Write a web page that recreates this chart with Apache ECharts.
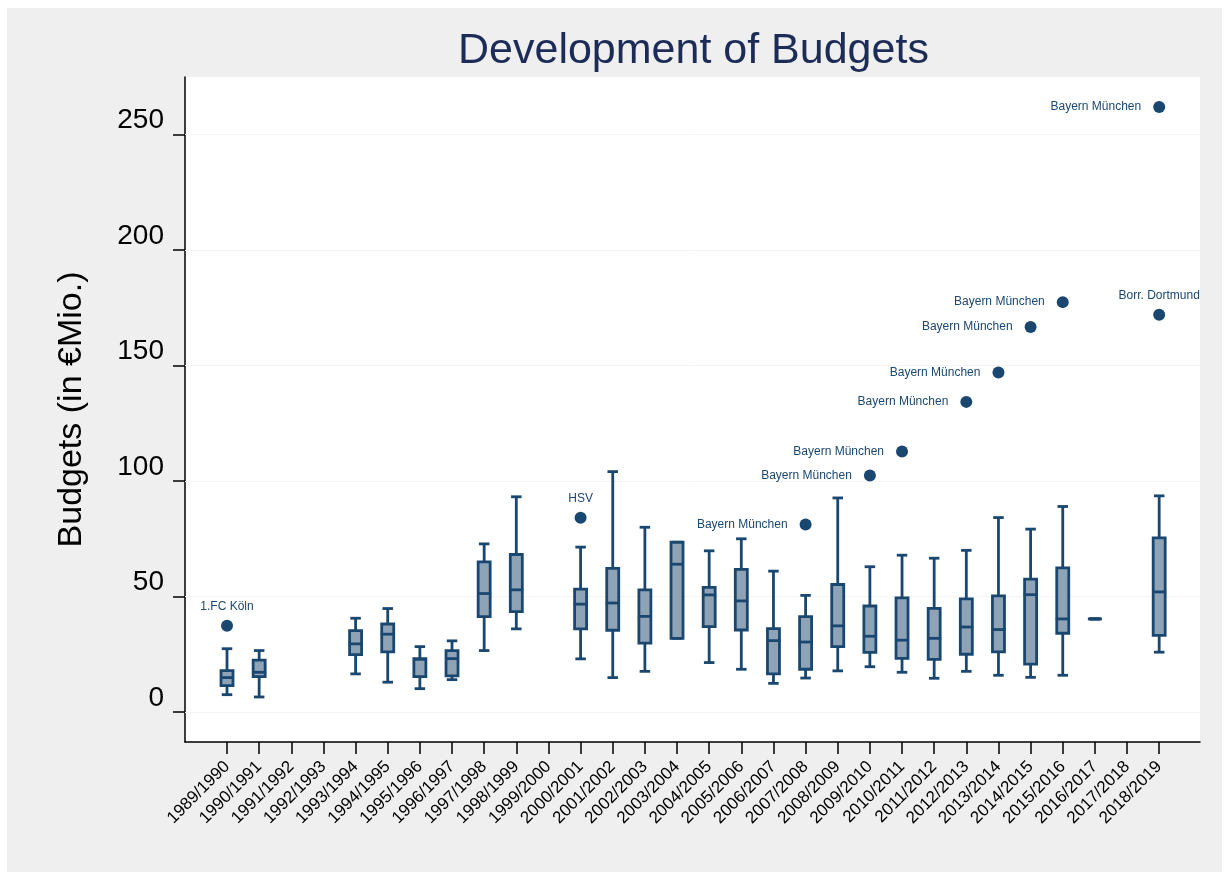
<!DOCTYPE html>
<html>
<head>
<meta charset="utf-8">
<script src="https://cdn.jsdelivr.net/npm/echarts@6/dist/echarts.min.js"></script>
<style>
  body { margin: 0; background: #ffffff; }
  #frame { position: absolute; left: 7px; top: 8px; width: 1215px; height: 864px; background: #efefef; }
  #main { position: absolute; left: 0; top: 0; width: 1228px; height: 874px; }
</style>
</head>
<body>
<div id="frame"></div>
<div id="main"></div>
<script>
// seasons on the x axis
const seasons = [
  '1989/1990', '1990/1991', '1991/1992', '1992/1993', '1993/1994', '1994/1995',
  '1995/1996', '1996/1997', '1997/1998', '1998/1999', '1999/2000', '2000/2001',
  '2001/2002', '2002/2003', '2003/2004', '2004/2005', '2005/2006', '2006/2007',
  '2007/2008', '2008/2009', '2009/2010', '2010/2011', '2011/2012', '2012/2013',
  '2013/2014', '2014/2015', '2015/2016', '2016/2017', '2017/2018', '2018/2019'
]
// box plot statistics per season (null = no data)
const lowWhisker  = [7.5, 6.5, null, null, 16.5, 12.9, 10.1, 14.0, 26.6, 36.0, null, 23.0, 14.9, 17.6, 31.9, 21.4, 18.5, 12.4, 14.7, 17.8, 19.6, 17.2, 14.6, 17.6, 15.9, 15.0, 15.9, 40.3, null, 25.9]
const quartile1   = [11.4, 15.3, null, null, 24.8, 26.0, 15.3, 15.6, 41.3, 43.5, null, 36.0, 35.4, 29.8, 31.9, 37.0, 35.5, 16.5, 18.5, 28.3, 25.8, 23.2, 22.8, 25.0, 26.0, 20.7, 34.1, 40.3, null, 33.2]
const medians     = [14.9, 17.2, null, null, 29.5, 33.7, 22.8, 23.1, 51.3, 52.9, null, 46.7, 47.2, 41.4, 64.0, 50.7, 48.1, 30.9, 30.3, 37.3, 32.8, 31.1, 31.9, 36.8, 35.7, 50.8, 40.3, 40.3, null, 52.0]
const quartile3   = [17.9, 22.5, null, null, 35.2, 38.1, 23.1, 26.6, 65.0, 68.2, null, 53.2, 62.2, 52.9, 73.5, 54.0, 61.8, 36.1, 41.3, 55.2, 45.9, 49.4, 44.9, 49.0, 50.3, 57.5, 62.4, 40.3, null, 75.4]
const highWhisker = [27.4, 26.6, null, null, 40.6, 44.8, 28.3, 30.8, 72.8, 93.2, null, 71.4, 104.1, 80.0, 73.5, 69.8, 75.0, 61.0, 50.5, 92.7, 62.9, 67.9, 66.6, 70.0, 84.2, 79.2, 89.0, 40.3, null, 93.6]

// outside values
const outlierSeason = [0, 11, 18, 20, 21, 23, 24, 25, 26, 29, 29]
const outlierValue  = [37.3, 84.1, 81.2, 102.4, 112.8, 134.3, 147.0, 166.7, 177.5, 262.0, 172.0]
const outlierClub   = ['1.FC Köln', 'HSV', 'Bayern München', 'Bayern München', 'Bayern München',
  'Bayern München', 'Bayern München', 'Bayern München', 'Bayern München', 'Bayern München', 'Borr. Dortmund']

const yTicks = [0, 50, 100, 150, 200, 250]

const NAVY = '#1a476f'
const FILL = '#8fa3b7'
const FONT = 'Liberation Sans, Arial, sans-serif'

const boxRows = []
seasons.forEach((s, i) => {
  if (medians[i] == null) return
  boxRows.push([i, lowWhisker[i], quartile1[i], medians[i], quartile3[i], highWhisker[i]])
})

const outlierData = outlierValue.map((v, k) => ({
  value: [outlierSeason[k], v],
  name: outlierClub[k],
  label: outlierClub[k] === 'Bayern München'
    ? { position: 'left', distance: 12 }
    : { position: 'top', distance: 7 }
}))

function renderBox(params, api) {
  const x = api.value(0)
  const lo = api.coord([x, api.value(1)])
  const q1 = api.coord([x, api.value(2)])
  const md = api.coord([x, api.value(3)])
  const q3 = api.coord([x, api.value(4)])
  const hi = api.coord([x, api.value(5)])
  const cx = lo[0]
  const bw = 12, cw = 10.5
  const lw = 2.8
  const line = { stroke: NAVY, lineWidth: lw }
  return {
    type: 'group',
    children: [
      { type: 'line', shape: { x1: cx, y1: hi[1], x2: cx, y2: q3[1] }, style: line },
      { type: 'line', shape: { x1: cx, y1: q1[1], x2: cx, y2: lo[1] }, style: line },
      { type: 'line', shape: { x1: cx - cw / 2, y1: hi[1], x2: cx + cw / 2, y2: hi[1] }, style: line },
      { type: 'line', shape: { x1: cx - cw / 2, y1: lo[1], x2: cx + cw / 2, y2: lo[1] }, style: line },
      { type: 'rect', shape: { x: cx - bw / 2, y: q3[1], width: bw, height: q1[1] - q3[1] },
        style: { fill: FILL, stroke: NAVY, lineWidth: lw } },
      { type: 'line', shape: { x1: cx - bw / 2 - 1, y1: md[1], x2: cx + bw / 2 + 1, y2: md[1] }, style: line }
    ]
  }
}

const chart = echarts.init(document.getElementById('main'), null, { renderer: 'canvas' })

chart.setOption({
  animation: false,
  textStyle: { fontFamily: FONT },
  title: {
    text: 'Development of Budgets',
    left: 453,
    top: 25,
    textStyle: { fontSize: 43, fontWeight: 'normal', color: '#1c2c57', fontFamily: FONT }
  },
  grid: {
    left: 185, top: 77, right: 28, bottom: 132,
    show: true, backgroundColor: '#ffffff', borderWidth: 0
  },
  xAxis: {
    type: 'value',
    min: -1.307,
    max: 30.27,
    axisLine: { show: true, onZero: false, lineStyle: { color: '#000', width: 1.5 } },
    axisTick: {
      show: true, length: 12,
      customValues: seasons.map((s, i) => i),
      lineStyle: { color: '#000', width: 1.5 }
    },
    axisLabel: {
      customValues: seasons.map((s, i) => i),
      formatter: v => seasons[v],
      rotate: 45,
      margin: 22,
      fontSize: 17,
      color: '#000'
    },
    splitLine: { show: false }
  },
  yAxis: {
    type: 'value',
    min: -13,
    max: 275,
    name: 'Budgets (in €Mio.)',
    nameLocation: 'middle',
    nameGap: 96,
    nameTextStyle: { fontSize: 34, color: '#000' },
    axisLine: { show: true, onZero: false, lineStyle: { color: '#000', width: 1.5 } },
    axisTick: {
      show: true, length: 12,
      customValues: yTicks,
      lineStyle: { color: '#000', width: 1.5 }
    },
    axisLabel: {
      customValues: yTicks,
      margin: 21,
      fontSize: 28,
      color: '#000',
      verticalAlign: 'bottom'
    },
    splitLine: { show: false }
  },
  series: [
    {
      // faint horizontal grid lines at the y ticks, kept beneath the boxes
      type: 'line',
      data: [],
      silent: true,
      z: 1,
      markLine: {
        silent: true,
        z: 1,
        symbol: 'none',
        label: { show: false },
        lineStyle: { color: '#f4f4f4', width: 1, type: 'solid' },
        data: yTicks.map(v => ({ yAxis: v }))
      }
    },
    {
      type: 'custom',
      renderItem: renderBox,
      data: boxRows,
      encode: { x: 0, y: [1, 2, 3, 4, 5] },
      z: 3
    },
    {
      type: 'scatter',
      data: outlierData,
      symbolSize: 12,
      itemStyle: { color: NAVY, opacity: 1 },
      label: {
        show: true,
        formatter: p => p.name,
        fontSize: 12,
        color: NAVY
      },
      z: 4
    }
  ]
})
</script>
</body>
</html>
